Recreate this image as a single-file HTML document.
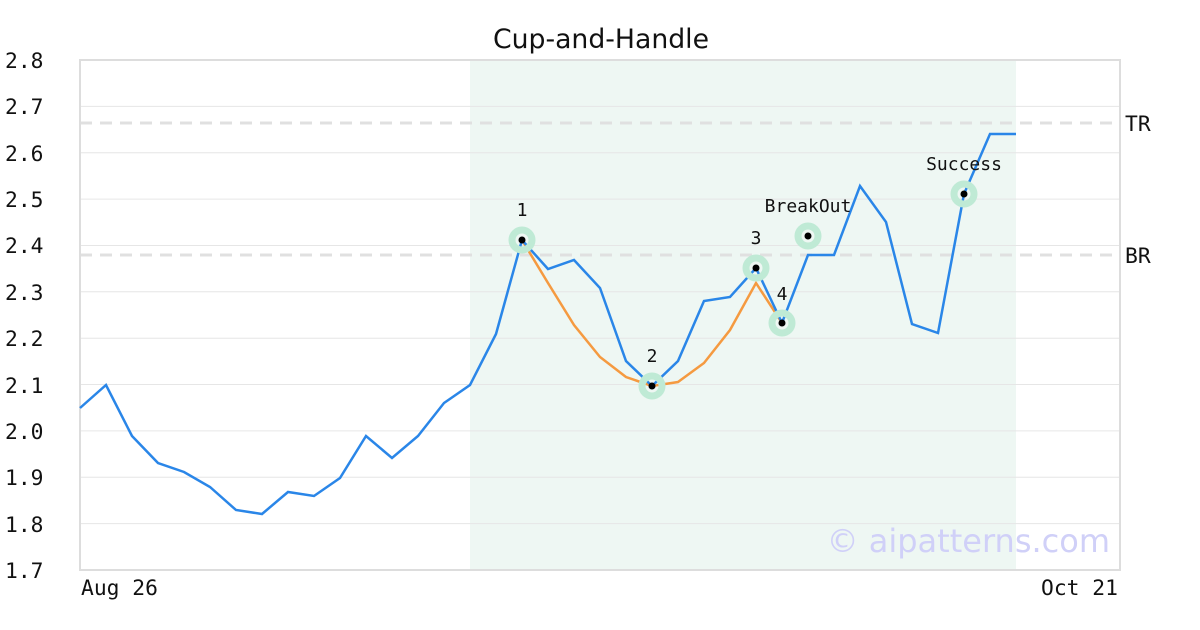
<!DOCTYPE html>
<html><head><meta charset="utf-8"><style>
body{margin:0;background:#fff;}
svg{display:block;}
.t{font-family:"DejaVu Sans Mono","Liberation Mono",monospace;font-size:21.3px;fill:#111;}
.s{font-family:"DejaVu Sans Mono","Liberation Mono",monospace;font-size:18px;fill:#111;}
</style></head><body>
<svg width="1200" height="630" viewBox="0 0 1200 630" xmlns="http://www.w3.org/2000/svg">
<rect width="1200" height="630" fill="#fff"/>
<rect x="470" y="60" width="546" height="510" fill="#eef7f3"/>
<g stroke="#e6e6e6" stroke-width="1">
<line x1="80" x2="1120" y1="106.4" y2="106.4"/><line x1="80" x2="1120" y1="152.7" y2="152.7"/>
<line x1="80" x2="1120" y1="199.1" y2="199.1"/><line x1="80" x2="1120" y1="245.5" y2="245.5"/>
<line x1="80" x2="1120" y1="291.8" y2="291.8"/><line x1="80" x2="1120" y1="338.2" y2="338.2"/>
<line x1="80" x2="1120" y1="384.5" y2="384.5"/><line x1="80" x2="1120" y1="430.9" y2="430.9"/>
<line x1="80" x2="1120" y1="477.3" y2="477.3"/><line x1="80" x2="1120" y1="523.6" y2="523.6"/>
</g>
<g stroke="#e0e0e0" stroke-width="3" stroke-dasharray="12,8">
<line x1="80" x2="1120" y1="123" y2="123"/><line x1="80" x2="1120" y1="255" y2="255"/>
</g>
<rect x="80" y="60" width="1040" height="510" fill="none" stroke="#ddd" stroke-width="2"/>
<text x="601" y="48" text-anchor="middle" font-family="DejaVu Sans,Liberation Sans,sans-serif" font-size="26.7" fill="#111">Cup-and-Handle</text>
<g class="t">
<text x="5" y="68">2.8</text><text x="5" y="114">2.7</text><text x="5" y="161">2.6</text>
<text x="5" y="207">2.5</text><text x="5" y="253">2.4</text><text x="5" y="300">2.3</text>
<text x="5" y="346">2.2</text><text x="5" y="393">2.1</text><text x="5" y="439">2.0</text>
<text x="5" y="485">1.9</text><text x="5" y="532">1.8</text><text x="5" y="578">1.7</text>
<text x="81" y="595">Aug 26</text><text x="1041" y="595">Oct 21</text>
<text x="1125" y="131">TR</text><text x="1125" y="263">BR</text>
</g>
<text x="1110" y="552" text-anchor="end" font-family="DejaVu Sans,Liberation Sans,sans-serif" font-size="32" fill="#d0d0f8">© aipatterns.com</text>
<polyline fill="none" stroke="#f59a40" stroke-width="2.5" points="522,240 548,283 574,325 600,357 626,377 652,386 678,382 704,363 730,330 756,283 782,323"/>
<polyline fill="none" stroke="#2a86e8" stroke-width="2.5" points="80,408 106,385 132,436 158,463 184,472 210,487 236,510 262,514 288,492 314,496 340,478 366,436 392,458 418,436 444,403 470,385 496,334 522,240 548,269 574,260 600,288 626,361 652,386 678,361 704,301 730,297 756,268 782,323 808,255 834,255 860,186 886,222 912,324 938,333 964,194 990,134 1016,134"/>
<g fill="none" stroke="#bfead5" stroke-width="7">
<circle cx="522" cy="240" r="10"/><circle cx="652" cy="386" r="10"/><circle cx="756" cy="268" r="10"/>
<circle cx="782" cy="323" r="10"/><circle cx="808" cy="236" r="10"/><circle cx="964" cy="194" r="10"/>
</g>
<g fill="#000">
<circle cx="522" cy="240" r="3.5"/><circle cx="652" cy="386" r="3.5"/><circle cx="756" cy="268" r="3.5"/>
<circle cx="782" cy="323" r="3.5"/><circle cx="808" cy="236" r="3.5"/><circle cx="964" cy="194" r="3.5"/>
</g>
<g class="s" text-anchor="middle">
<text x="522" y="216">1</text><text x="652" y="362">2</text><text x="756" y="244">3</text>
<text x="782" y="300">4</text><text x="808" y="212">BreakOut</text><text x="964" y="170">Success</text>
</g>
</svg>
</body></html>
